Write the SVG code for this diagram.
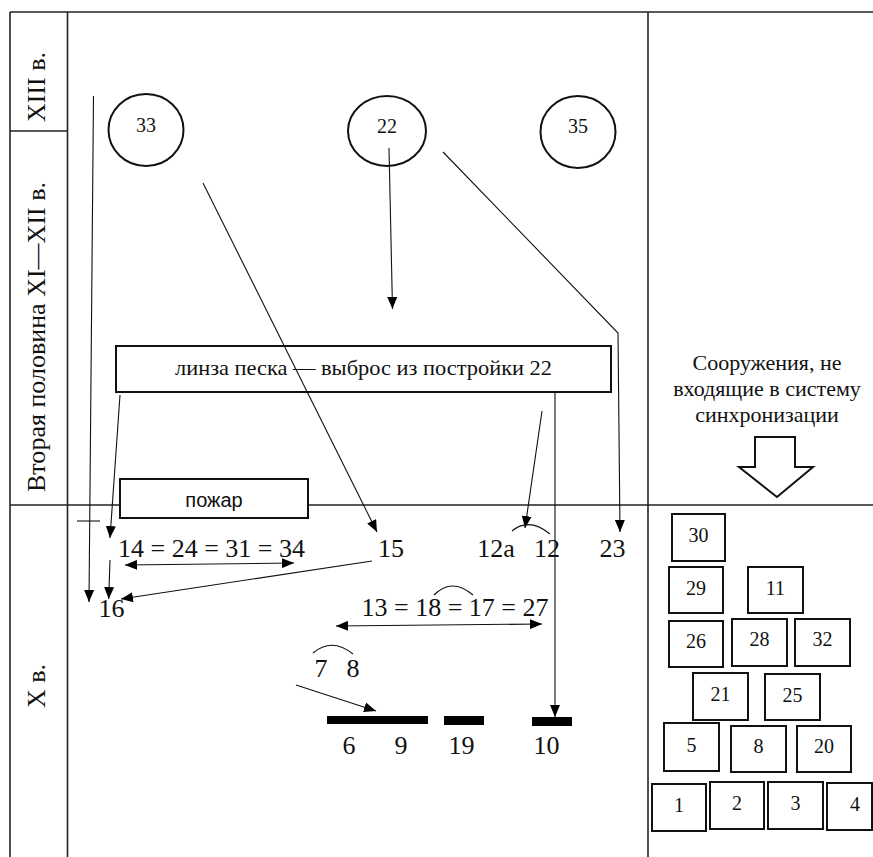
<svg xmlns="http://www.w3.org/2000/svg" width="873" height="857" viewBox="0 0 873 857">
<style>
.frame{stroke:#222;stroke-width:1.6;fill:none}
.box{stroke:#111;stroke-width:2;fill:#fff}
.ell{stroke:#111;stroke-width:2;fill:#fff}
.ln{stroke:#111;stroke-width:1.1;fill:none}
.arr{stroke:#111;stroke-width:1.1;fill:none;marker-end:url(#ah)}
.darr{stroke:#111;stroke-width:1.1;fill:none;marker-end:url(#ah);marker-start:url(#ah)}
text{font-family:'Liberation Serif',serif;fill:#111;text-anchor:middle}
.n{font-size:26px}
.s{font-size:20px}
.m{font-size:22px}
.bar{fill:#000}
</style>
<defs>
<marker id="ah" markerUnits="userSpaceOnUse" markerWidth="12" markerHeight="10" refX="12" refY="5" orient="auto-start-reverse">
<path d="M0,0 L12,5 L0,10 z" fill="#000"/>
</marker>
</defs>
<rect width="873" height="857" fill="#fff"/>
<g id="frame">
<line class="frame" x1="10" y1="12" x2="873" y2="12"/>
<line class="frame" x1="10" y1="12" x2="10" y2="857"/>
<line class="frame" x1="67.5" y1="12" x2="67.5" y2="857"/>
<line class="frame" x1="648" y1="12" x2="648" y2="857"/>
<line class="frame" x1="10" y1="505" x2="873" y2="505"/>
<line class="frame" x1="10" y1="131" x2="67.5" y2="131"/>
<text class="n" font-family="Liberation Serif, serif" transform="translate(45,87) rotate(-90)">XIII в.</text>
<text class="n" font-family="Liberation Serif, serif" transform="translate(45,337) rotate(-90)" textLength="310" lengthAdjust="spacingAndGlyphs">Вторая половина XI—XII в.</text>
<text class="n" font-family="Liberation Serif, serif" transform="translate(45,686) rotate(-90)">X в.</text>
</g>
<g id="c33"><ellipse class="ell" cx="146" cy="130" rx="37.5" ry="36"/><text class="s" x="146" y="132">33</text></g>
<g id="c22"><ellipse class="ell" cx="387" cy="131" rx="39" ry="35"/><text class="s" x="387" y="133">22</text></g>
<g id="c35"><ellipse class="ell" cx="578" cy="132" rx="37.5" ry="36"/><text class="s" x="578" y="133">35</text></g>
<g id="linza"><rect class="box" x="116" y="346" width="495" height="46"/><text class="m" x="363.5" y="375" textLength="377" lengthAdjust="spacingAndGlyphs">линза песка — выброс из постройки 22</text></g>
<g id="pozhar"><rect class="box" x="120" y="479" width="188" height="39"/><text x="214" y="507" style="font-family:'Liberation Sans',sans-serif;font-size:20px">пожар</text></g>
<g id="n14"><text class="n" x="211.5" y="557">14 = 24 = 31 = 34</text></g>
<g id="n15"><text class="n" x="391" y="557">15</text></g>
<g id="n12a"><text class="n" x="496" y="557">12а</text></g>
<g id="n12"><text class="n" x="547" y="557">12</text></g>
<g id="n23"><text class="n" x="612.5" y="557">23</text></g>
<g id="n16"><text class="n" x="111.5" y="617">16</text></g>
<g id="n13"><text class="n" x="455" y="616">13 = 18 = 17 = 27</text></g>
<g id="n7"><text class="n" x="321" y="677">7</text></g>
<g id="n8"><text class="n" x="353" y="677">8</text></g>
<g id="b69"><rect class="bar" x="327" y="716" width="101" height="8"/><text class="n" x="349" y="754">6</text><text class="n" x="401" y="754">9</text></g>
<g id="b19"><rect class="bar" x="444" y="716" width="40" height="9"/><text class="n" x="461.5" y="754">19</text></g>
<g id="b10"><rect class="bar" x="532" y="717" width="40" height="9"/><text class="n" x="546.5" y="754">10</text></g>
<g id="legend">
<text class="m" x="767" y="370">Сооружения, не</text>
<text class="m" x="767" y="396">входящие в систему</text>
<text class="m" x="767" y="422">синхронизации</text>
<polygon points="755,437 795,437 795,467 813,467 777,497 739,467 755,467" style="fill:#fff;stroke:#111;stroke-width:2"/>
</g>
<g id="r30"><rect class="box" x="672" y="514" width="53" height="47"/><text class="s" x="698.5" y="542">30</text></g>
<g id="r29"><rect class="box" x="669" y="567" width="54" height="46"/><text class="s" x="696" y="595">29</text></g>
<g id="r11"><rect class="box" x="748" y="567" width="55" height="46"/><text class="s" x="775.5" y="595">11</text></g>
<g id="r26"><rect class="box" x="669" y="621" width="54" height="46"/><text class="s" x="696" y="648">26</text></g>
<g id="r28"><rect class="box" x="732" y="619" width="55" height="47"/><text class="s" x="759.5" y="646">28</text></g>
<g id="r32"><rect class="box" x="795" y="619" width="55" height="47"/><text class="s" x="822.5" y="646">32</text></g>
<g id="r21"><rect class="box" x="693" y="673" width="55" height="47"/><text class="s" x="720.5" y="701">21</text></g>
<g id="r25"><rect class="box" x="765" y="674" width="55" height="46"/><text class="s" x="792.5" y="702">25</text></g>
<g id="r5"><rect class="box" x="664" y="723" width="55" height="48"/><text class="s" x="691.5" y="752">5</text></g>
<g id="r8"><rect class="box" x="731" y="726" width="55" height="46"/><text class="s" x="758.5" y="753">8</text></g>
<g id="r20"><rect class="box" x="797" y="726" width="54" height="46"/><text class="s" x="824" y="753">20</text></g>
<g id="r1"><rect class="box" x="652" y="784" width="54" height="47"/><text class="s" x="679" y="812">1</text></g>
<g id="r2"><rect class="box" x="710" y="782" width="54" height="47"/><text class="s" x="737" y="810">2</text></g>
<g id="r3"><rect class="box" x="768" y="782" width="55" height="47"/><text class="s" x="795.5" y="810">3</text></g>
<g id="r4"><rect class="box" x="827" y="783" width="45" height="47"/><text class="s" x="855" y="811">4</text></g>
<g id="connectors">
<line class="arr" x1="93.5" y1="96" x2="89" y2="602"/>
<line class="ln" x1="77" y1="521" x2="100" y2="521"/>
<line class="arr" x1="120" y1="395" x2="110" y2="538"/>
<line class="arr" x1="110" y1="560" x2="108.7" y2="599"/>
<line class="darr" x1="125" y1="565" x2="294" y2="563"/>
<line class="arr" x1="372" y1="561" x2="121" y2="599"/>
<line class="arr" x1="203" y1="183" x2="377" y2="532"/>
<line class="arr" x1="389" y1="148" x2="392.5" y2="309"/>
<polyline class="arr" points="443,152 618,333 620,532"/>
<line class="arr" x1="542" y1="411" x2="525" y2="528"/>
<line class="arr" x1="555" y1="392" x2="555" y2="717"/>
<path class="ln" d="M512,531 Q529,517 550,534"/>
<line class="darr" x1="336" y1="626" x2="542" y2="624"/>
<path class="ln" d="M434,595 Q452,577 473,595"/>
<path class="ln" d="M313,653 Q332,637 353,654"/>
<line class="arr" x1="296" y1="685" x2="376" y2="711"/>
</g>
</svg>
